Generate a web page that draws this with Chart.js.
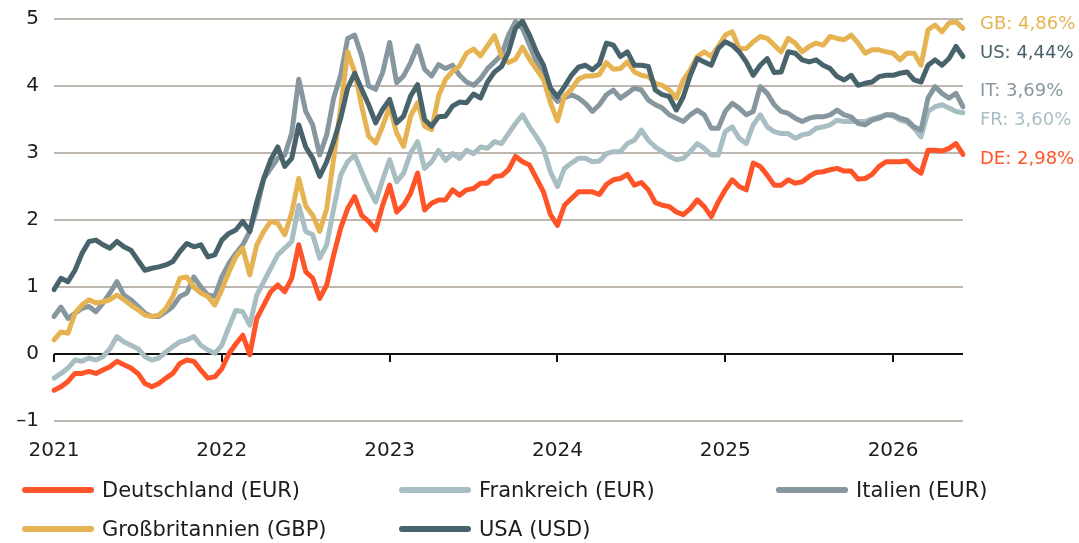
<!DOCTYPE html>
<html lang="de">
<head>
<meta charset="utf-8">
<title>Rendite 10-jähriger Staatsanleihen</title>
<script src="https://cdn.jsdelivr.net/npm/chart.js@4.4.1/dist/chart.umd.min.js"></script>
<style>
    html, body { margin: 0; padding: 0; background: #fff; }
    #wrap { position: relative; width: 1079px; height: 543px; font-family: "DejaVu Sans", sans-serif; }
    #chart { position: absolute; left: 0; top: 0; }
    .eintrag { position: absolute; display: flex; align-items: center; font-size: 21px; color: #1c1c1c; white-space: nowrap; }
    .eintrag .strich { width: 72px; height: 6px; border-radius: 3px; margin-right: 8px; }
</style>
</head>
<body>
<div id="wrap">
    <canvas id="chart" width="1079" height="543"></canvas>
    <div id="legende"></div>
</div>
<script>
// Rendite 10-jähriger Staatsanleihen in %, halbmonatlich (1. und 15. des Monats)
const jahre = ['2021', '2022', '2023', '2024', '2025', '2026'];
const yTicks = [-1, 0, 1, 2, 3, 4, 5];

const deutschland = [
    -0.54, -0.49, -0.41, -0.29, -0.29, -0.26, -0.29, -0.24, -0.19, -0.11,
    -0.16, -0.21, -0.29, -0.44, -0.49, -0.44, -0.36, -0.29, -0.14, -0.09,
    -0.11, -0.24, -0.36, -0.34, -0.22, 0.00, 0.15, 0.28, -0.01, 0.53,
    0.73, 0.93, 1.03, 0.93, 1.13, 1.63, 1.23, 1.13, 0.83, 1.03,
    1.48, 1.88, 2.17, 2.35, 2.07, 1.98, 1.85, 2.22, 2.52, 2.12,
    2.22, 2.40, 2.70, 2.15, 2.25, 2.30, 2.30, 2.45, 2.37, 2.45,
    2.47, 2.55, 2.55, 2.65, 2.66, 2.75, 2.95, 2.87, 2.82, 2.62,
    2.42, 2.08, 1.92, 2.22, 2.32, 2.42, 2.42, 2.42, 2.38, 2.53,
    2.60, 2.62, 2.68, 2.52, 2.56, 2.45, 2.26, 2.22, 2.20, 2.12,
    2.08, 2.17, 2.30, 2.20, 2.05, 2.27, 2.45, 2.60, 2.50, 2.45,
    2.85, 2.80, 2.67, 2.52, 2.52, 2.60, 2.55, 2.57, 2.65, 2.71,
    2.72, 2.75, 2.77, 2.73, 2.73, 2.61, 2.62, 2.68, 2.80, 2.87,
    2.87, 2.87, 2.88, 2.77, 2.70, 3.04, 3.04, 3.03, 3.07, 3.14,
    2.98
];
const frankreich = [
    -0.36, -0.29, -0.21, -0.09, -0.11, -0.06, -0.09, -0.04, 0.08, 0.26,
    0.18, 0.13, 0.08, -0.04, -0.09, -0.06, 0.03, 0.11, 0.18, 0.21,
    0.26, 0.13, 0.06, 0.01, 0.13, 0.40, 0.65, 0.63, 0.43, 0.88,
    1.08, 1.28, 1.48, 1.58, 1.68, 2.22, 1.83, 1.78, 1.43, 1.63,
    2.17, 2.67, 2.87, 2.97, 2.72, 2.47, 2.27, 2.60, 2.90, 2.57,
    2.70, 3.00, 3.17, 2.77, 2.87, 3.04, 2.89, 2.99, 2.92, 3.04,
    2.99, 3.09, 3.07, 3.17, 3.14, 3.29, 3.44, 3.57, 3.39, 3.24,
    3.07, 2.72, 2.50, 2.77, 2.85, 2.92, 2.92, 2.87, 2.88, 2.99,
    3.02, 3.02, 3.14, 3.19, 3.34, 3.19, 3.09, 3.02, 2.95, 2.90,
    2.92, 3.02, 3.14, 3.07, 2.97, 2.97, 3.32, 3.39, 3.22, 3.14,
    3.42, 3.57, 3.39, 3.32, 3.29, 3.29, 3.22, 3.27, 3.29, 3.37,
    3.39, 3.42, 3.49, 3.47, 3.47, 3.47, 3.47, 3.51, 3.54, 3.57,
    3.55, 3.49, 3.46, 3.37, 3.24, 3.62, 3.69, 3.72, 3.67, 3.62,
    3.60
];
const italien = [
    0.56, 0.70, 0.53, 0.61, 0.68, 0.71, 0.63, 0.76, 0.91, 1.08,
    0.88, 0.81, 0.71, 0.61, 0.56, 0.56, 0.63, 0.71, 0.86, 0.91,
    1.15, 1.00, 0.88, 0.86, 1.15, 1.35, 1.50, 1.63, 1.83, 2.17,
    2.62, 2.77, 2.92, 2.97, 3.30, 4.10, 3.62, 3.42, 2.97, 3.27,
    3.82, 4.16, 4.71, 4.76, 4.45, 4.00, 3.95, 4.20, 4.65, 4.05,
    4.15, 4.35, 4.60, 4.25, 4.15, 4.32, 4.26, 4.31, 4.16, 4.06,
    4.01, 4.11, 4.26, 4.36, 4.46, 4.76, 4.96, 4.86, 4.61, 4.36,
    4.11, 3.89, 3.77, 3.82, 3.87, 3.82, 3.74, 3.62, 3.72, 3.87,
    3.94, 3.82, 3.89, 3.97, 3.94, 3.79, 3.72, 3.67, 3.57, 3.52,
    3.47, 3.57, 3.64, 3.57, 3.37, 3.37, 3.62, 3.74, 3.67, 3.57,
    3.62, 3.99, 3.89, 3.72, 3.62, 3.59, 3.52, 3.47, 3.52, 3.54,
    3.54, 3.57, 3.64, 3.57, 3.54, 3.44, 3.42, 3.49, 3.52, 3.57,
    3.57, 3.52, 3.49, 3.39, 3.34, 3.82, 3.99, 3.89, 3.82, 3.89,
    3.69
];
const grossbritannien = [
    0.21, 0.33, 0.31, 0.61, 0.73, 0.81, 0.76, 0.78, 0.81, 0.88,
    0.81, 0.73, 0.66, 0.58, 0.56, 0.58, 0.68, 0.86, 1.13, 1.15,
    1.00, 0.91, 0.86, 0.73, 0.96, 1.22, 1.45, 1.58, 1.18, 1.63,
    1.83, 1.98, 1.95, 1.78, 2.11, 2.62, 2.21, 2.07, 1.83, 2.17,
    2.92, 3.67, 4.51, 4.21, 3.70, 3.25, 3.15, 3.40, 3.70, 3.30,
    3.10, 3.55, 3.75, 3.40, 3.35, 3.85, 4.10, 4.22, 4.30, 4.49,
    4.55, 4.45, 4.60, 4.75, 4.45, 4.35, 4.40, 4.58, 4.40, 4.25,
    4.10, 3.75, 3.48, 3.85, 3.95, 4.10, 4.15, 4.15, 4.17, 4.35,
    4.25, 4.26, 4.36, 4.21, 4.16, 4.14, 4.04, 4.01, 3.94, 3.82,
    4.09, 4.24, 4.44, 4.51, 4.44, 4.59, 4.76, 4.81, 4.56, 4.56,
    4.66, 4.74, 4.71, 4.61, 4.51, 4.71, 4.64, 4.51, 4.59, 4.64,
    4.61, 4.74, 4.71, 4.69, 4.76, 4.64, 4.49, 4.54, 4.54, 4.51,
    4.49, 4.39, 4.49, 4.49, 4.31, 4.84, 4.91, 4.81, 4.94, 4.96,
    4.86
];
const usa = [
    0.96, 1.13, 1.08, 1.25, 1.50, 1.68, 1.70, 1.63, 1.58, 1.68,
    1.60, 1.55, 1.40, 1.25, 1.28, 1.30, 1.33, 1.38, 1.53, 1.65,
    1.60, 1.63, 1.45, 1.48, 1.70, 1.80, 1.85, 1.98, 1.83, 2.27,
    2.62, 2.90, 3.09, 2.80, 2.92, 3.42, 3.09, 2.92, 2.65, 2.87,
    3.17, 3.52, 3.97, 4.19, 3.95, 3.72, 3.45, 3.65, 3.80, 3.45,
    3.55, 3.85, 4.02, 3.50, 3.40, 3.54, 3.55, 3.70, 3.76, 3.75,
    3.88, 3.82, 4.06, 4.21, 4.29, 4.51, 4.86, 4.97, 4.76, 4.51,
    4.31, 3.97, 3.84, 3.99, 4.16, 4.28, 4.31, 4.24, 4.33, 4.64,
    4.61, 4.44, 4.51, 4.31, 4.31, 4.29, 3.94, 3.87, 3.84, 3.64,
    3.84, 4.16, 4.41, 4.36, 4.31, 4.56, 4.66, 4.61, 4.51, 4.36,
    4.16, 4.31, 4.41, 4.20, 4.21, 4.51, 4.49, 4.39, 4.36, 4.39,
    4.31, 4.26, 4.14, 4.09, 4.16, 4.01, 4.04, 4.06, 4.14, 4.16,
    4.16, 4.19, 4.21, 4.09, 4.06, 4.31, 4.39, 4.31, 4.41, 4.59,
    4.44
];

// Stichtage: 1. und 15. jedes Monats ab Januar 2021
const stichtage = [];
for (let j = 2021; j <= 2026; j++) {
    for (let m = 1; m <= 12; m++) {
        for (const t of [1, 15]) {
            stichtage.push(`${String(t).padStart(2, '0')}.${String(m).padStart(2, '0')}.${j}`);
        }
    }
}
stichtage.length = deutschland.length;

const farben = {
    de: '#ff5428',
    fr: '#a8bec3',
    it: '#87979f',
    gb: '#e5b352',
    us: '#48636b'
};
const gitterFarbe = '#bdb7af';
const schrift = '"DejaVu Sans", sans-serif';

const serien = [
    { name: 'Deutschland (EUR)', kurz: 'DE', werte: deutschland, farbe: farben.de, ebene: 2 },
    { name: 'Frankreich (EUR)', kurz: 'FR', werte: frankreich, farbe: farben.fr, ebene: 4 },
    { name: 'Italien (EUR)', kurz: 'IT', werte: italien, farbe: farben.it, ebene: 3 },
    { name: 'Großbritannien (GBP)', kurz: 'GB', werte: grossbritannien, farbe: farben.gb, ebene: 1 },
    { name: 'USA (USD)', kurz: 'US', werte: usa, farbe: farben.us, ebene: 0 }
];

// Endbeschriftungen rechts (Versatz in px, damit sich IT und FR nicht überdecken)
const labelVersatz = { GB: -4, US: -3, IT: -15, FR: 8, DE: 5 };

// Nulllinie mit Jahresstrichen + Endwerte rechts
const extras = {
    id: 'extras',
    beforeDatasetsDraw(chart) {
        const { ctx, scales: { x, y } } = chart;
        const y0 = y.getPixelForValue(0);
        ctx.save();
        ctx.strokeStyle = '#111';
        ctx.lineWidth = 2;
        jahre.forEach(j => {
            const px = Math.round(x.getPixelForValue(stichtage.indexOf(`01.01.${j}`)));
            ctx.beginPath();
            ctx.moveTo(px, y0);
            ctx.lineTo(px, y0 + 8);
            ctx.stroke();
        });
        ctx.restore();
    },
    afterDraw(chart) {
        const { ctx, chartArea, scales: { y } } = chart;
        ctx.save();
        ctx.font = `18px ${schrift}`;
        ctx.textBaseline = 'middle';
        ctx.textAlign = 'left';
        serien.forEach(s => {
            const letzter = s.werte[s.werte.length - 1];
            const py = y.getPixelForValue(letzter) + labelVersatz[s.kurz];
            ctx.fillStyle = s.farbe;
            ctx.fillText(`${s.kurz}: ${letzter.toFixed(2).replace('.', ',')}%`, chartArea.right + 17, py);
        });
        ctx.restore();
    }
};

new Chart(document.getElementById('chart'), {
    type: 'line',
    data: {
        labels: stichtage,
        datasets: serien.map(s => ({
            label: s.name,
            data: s.werte,
            borderColor: s.farbe,
            backgroundColor: s.farbe,
            borderWidth: 5,
            pointRadius: 0,
            tension: 0,
            borderJoinStyle: 'round',
            borderCapStyle: 'round',
            order: s.ebene
        }))
    },
    options: {
        responsive: false,
        animation: false,
        layout: { padding: { top: 19, right: 116, left: 0, bottom: 0 } },
        plugins: {
            legend: { display: false },
            tooltip: { enabled: false }
        },
        scales: {
            x: {
                type: 'category',
                offset: false,
                grid: { display: false, drawTicks: false },
                border: { display: false },
                afterBuildTicks: (scale) => {
                    scale.ticks = jahre.map(j => ({ value: stichtage.indexOf(`01.01.${j}`) }));
                },
                afterFit: (scale) => {
                    scale.height = 122;
                    scale.paddingLeft = 0;
                    scale.paddingRight = 0;
                },
                ticks: {
                    autoSkip: false,
                    maxRotation: 0,
                    padding: 18,
                    color: '#1c1c1c',
                    font: { family: schrift, size: 20 },
                    callback: (v) => stichtage[v].slice(6)
                }
            },
            y: {
                min: -1,
                max: 5,
                afterBuildTicks: (scale) => { scale.ticks = yTicks.map(v => ({ value: v })); },
                afterFit: (scale) => {
                    scale.width = 54;
                    scale.paddingTop = 0;
                    scale.paddingBottom = 0;
                },
                grid: {
                    drawTicks: false,
                    lineWidth: 2,
                    color: (c) => c.tick && c.tick.value === 0 ? '#111' : gitterFarbe
                },
                border: { display: false },
                ticks: {
                    padding: 15,
                    color: '#1c1c1c',
                    font: { family: schrift, size: 20 },
                    callback: (v) => String(v).replace('-', '–')
                }
            }
        }
    },
    plugins: [extras]
});

// Legende unten (drei Spalten)
const spaltenX = [22, 399, 776];
const zeilenY = [491, 530];
const legende = document.getElementById('legende');
serien.forEach((s, i) => {
    const el = document.createElement('div');
    el.className = 'eintrag';
    el.style.left = spaltenX[i % 3] + 'px';
    el.style.top = (zeilenY[Math.floor(i / 3)] - 13) + 'px';
    el.innerHTML = `<span class="strich" style="background:${s.farbe}"></span><span>${s.name}</span>`;
    legende.appendChild(el);
});
</script>
</body>
</html>
